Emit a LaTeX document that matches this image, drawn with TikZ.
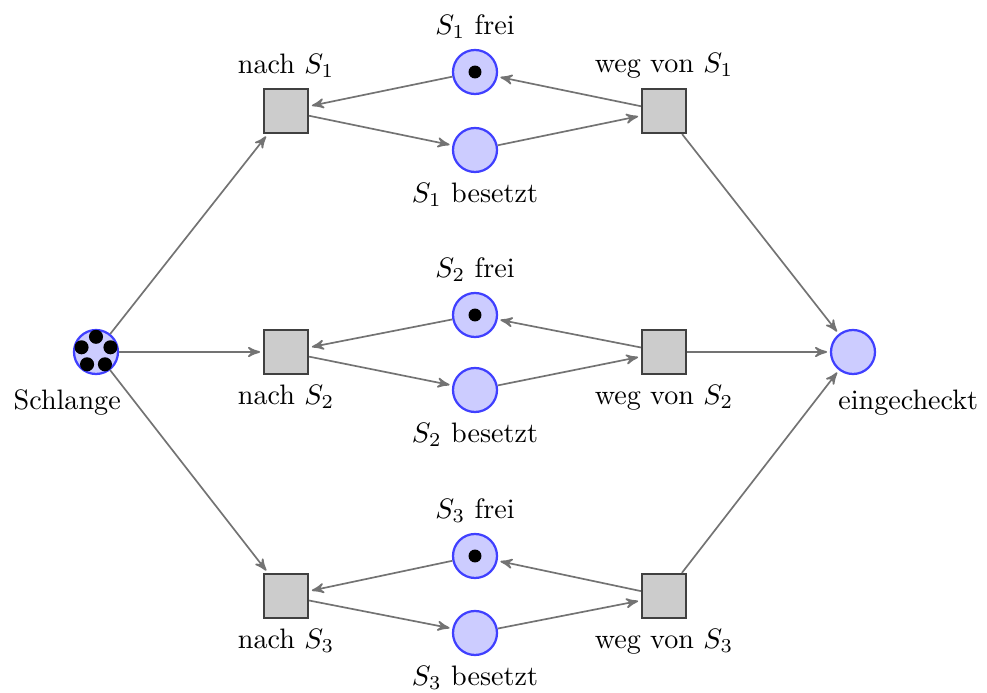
\documentclass[tikz,border=0pt]{standalone}
\usetikzlibrary{arrows}
\begin{document}
\begin{tikzpicture}[x=0.0125cm,y=-0.0125cm,>=stealth',
  place/.style={circle,draw=blue!75,fill=blue!20,thick,minimum size=5.5mm,inner sep=0pt},
  transition/.style={rectangle,draw=black!75,fill=black!20,thick,minimum size=5.5mm,inner sep=0pt},
  flow/.style={->,draw=black!55,semithick,shorten >=1pt},
  token/.style={fill=black}]
  \useasboundingbox (0,0) rectangle (987,693);

  % queue and final place
  \node[place,label={[xshift=-0.36cm,yshift=-0.06cm]below:Schlange}] (sch) at (96,352) {};
  \node[place,label={[xshift=0.69cm,yshift=-0.06cm]below:eingecheckt}] (ein) at (853,352) {};

  % counter 1
  \node[transition,label=above:nach $S_1$] (n1) at (286,111) {};
  \node[place,label=above:$S_1$ frei] (f1) at (475,72) {};
  \node[place,label=below:$S_1$ besetzt] (b1) at (475,150) {};
  \node[transition,label=above:weg von $S_1$] (w1) at (664,111) {};

  % counter 2
  \node[transition,label=below:nach $S_2$] (n2) at (286,352) {};
  \node[place,label=above:$S_2$ frei] (f2) at (475,315) {};
  \node[place,label=below:$S_2$ besetzt] (b2) at (475,390) {};
  \node[transition,label=below:weg von $S_2$] (w2) at (664,352) {};

  % counter 3
  \node[transition,label=below:nach $S_3$] (n3) at (286,596) {};
  \node[place,label=above:$S_3$ frei] (f3) at (475,556) {};
  \node[place,label=below:$S_3$ besetzt] (b3) at (475,633) {};
  \node[transition,label=below:weg von $S_3$] (w3) at (664,596) {};

  % tokens
  \foreach \a in {90,162,234,306,18}
    \fill[token] (sch.center) ++(\a:0.19cm) circle (2.5pt);
  \foreach \p in {f1,f2,f3}
    \fill[token] (\p.center) circle (2.3pt);

  % arcs
  \foreach \i in {1,2,3} {
    \draw[flow] (sch) -- (n\i);
    \draw[flow] (f\i) -- (n\i);
    \draw[flow] (n\i) -- (b\i);
    \draw[flow] (b\i) -- (w\i);
    \draw[flow] (w\i) -- (f\i);
    \draw[flow] (w\i) -- (ein);
  }
\end{tikzpicture}
\end{document}
